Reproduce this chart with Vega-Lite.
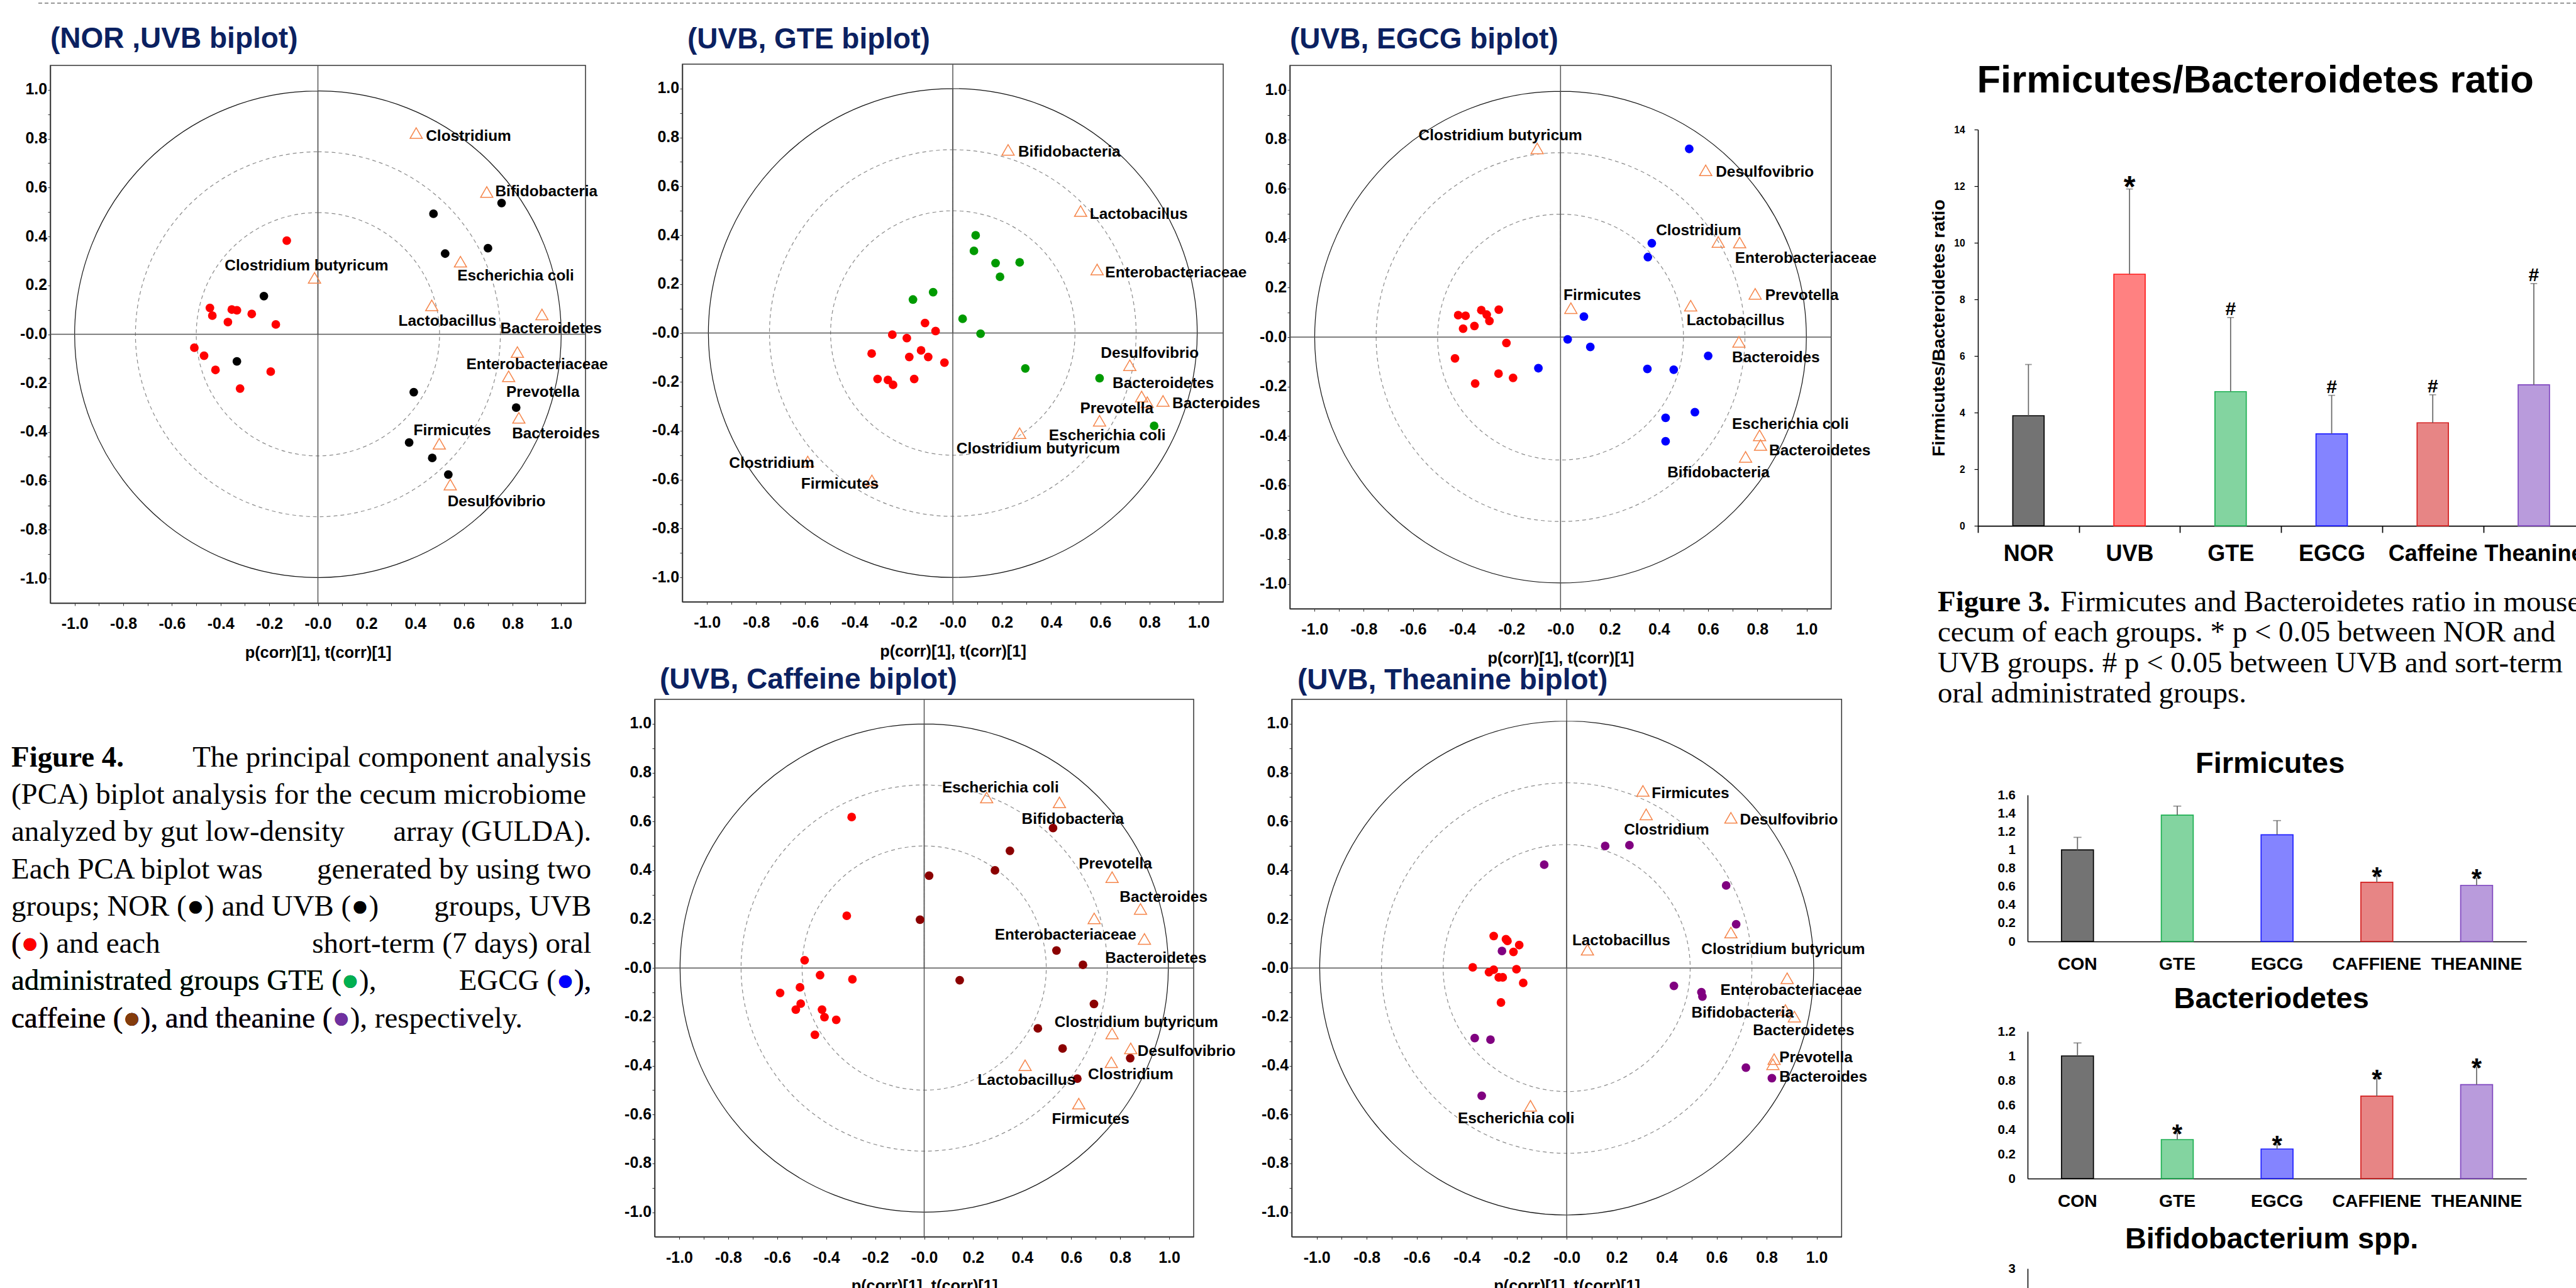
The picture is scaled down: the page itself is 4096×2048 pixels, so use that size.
{
"$schema": "https://vega.github.io/schema/vega-lite/v6.json",
"padding": 0,
"background": "white",
"config": {
  "view": {"stroke": null},
  "axis": {"labelFont": "Liberation Sans", "titleFont": "Liberation Sans", "labelFontWeight": "bold", "titleFontWeight": "bold", "labelColor": "black", "titleColor": "black", "grid": false, "labelOverlap": false, "labelFlush": false, "labelBound": false, "domainColor": "black", "tickColor": "black"},
  "title": {"font": "Liberation Sans", "fontWeight": "bold", "color": "black", "baseline": "alphabetic", "frame": "group"},
  "text": {"font": "Liberation Sans"}
},
"datasets": {
  "b1p": [{"x":-0.128,"y":0.383,"g":"UVB"},{"x":-0.444,"y":0.108,"g":"UVB"},{"x":-0.434,"y":0.076,"g":"UVB"},{"x":-0.354,"y":0.101,"g":"UVB"},{"x":-0.333,"y":0.098,"g":"UVB"},{"x":-0.272,"y":0.083,"g":"UVB"},{"x":-0.37,"y":0.05,"g":"UVB"},{"x":-0.173,"y":0.04,"g":"UVB"},{"x":-0.508,"y":-0.055,"g":"UVB"},{"x":-0.468,"y":-0.088,"g":"UVB"},{"x":-0.421,"y":-0.146,"g":"UVB"},{"x":-0.194,"y":-0.153,"g":"UVB"},{"x":-0.32,"y":-0.222,"g":"UVB"},
    {"x":0.475,"y":0.493,"g":"NOR"},{"x":0.755,"y":0.537,"g":"NOR"},{"x":0.523,"y":0.33,"g":"NOR"},{"x":0.699,"y":0.352,"g":"NOR"},{"x":-0.222,"y":0.156,"g":"NOR"},{"x":-0.333,"y":-0.111,"g":"NOR"},{"x":0.394,"y":-0.237,"g":"NOR"},{"x":0.815,"y":-0.3,"g":"NOR"},{"x":0.375,"y":-0.443,"g":"NOR"},{"x":0.47,"y":-0.506,"g":"NOR"},{"x":0.536,"y":-0.574,"g":"NOR"}],
  "b1t": [{"label":"Clostridium","x":0.404,"y":0.823,"lx":0.444,"ly":0.809},{"label":"Bifidobacteria","x":0.694,"y":0.582,"lx":0.729,"ly":0.584},{"label":"Escherichia coli","x":0.586,"y":0.297,"lx":0.573,"ly":0.239},{"label":"Clostridium butyricum","x":-0.014,"y":0.231,"lx":-0.383,"ly":0.28},{"label":"Lactobacillus","x":0.468,"y":0.118,"lx":0.331,"ly":0.053},{"label":"Bacteroidetes","x":0.921,"y":0.081,"lx":0.75,"ly":0.023},{"label":"Enterobacteriaceae","x":0.82,"y":-0.073,"lx":0.61,"ly":-0.126},{"label":"Prevotella","x":0.784,"y":-0.172,"lx":0.774,"ly":-0.239},{"label":"Bacteroides","x":0.826,"y":-0.342,"lx":0.798,"ly":-0.408},{"label":"Firmicutes","x":0.499,"y":-0.448,"lx":0.393,"ly":-0.396},{"label":"Desulfovibrio","x":0.544,"y":-0.615,"lx":0.533,"ly":-0.687}],
  "gtep": [{"x":-0.113,"y":0.041,"g":"UVB"},{"x":-0.07,"y":0.008,"g":"UVB"},{"x":-0.246,"y":-0.007,"g":"UVB"},{"x":-0.187,"y":-0.021,"g":"UVB"},{"x":-0.33,"y":-0.084,"g":"UVB"},{"x":-0.129,"y":-0.071,"g":"UVB"},{"x":-0.177,"y":-0.098,"g":"UVB"},{"x":-0.1,"y":-0.098,"g":"UVB"},{"x":-0.034,"y":-0.121,"g":"UVB"},{"x":-0.306,"y":-0.188,"g":"UVB"},{"x":-0.264,"y":-0.192,"g":"UVB"},{"x":-0.243,"y":-0.212,"g":"UVB"},{"x":-0.157,"y":-0.188,"g":"UVB"},
    {"x":0.093,"y":0.4,"g":"GTE"},{"x":0.086,"y":0.336,"g":"GTE"},{"x":0.174,"y":0.286,"g":"GTE"},{"x":0.272,"y":0.289,"g":"GTE"},{"x":0.192,"y":0.23,"g":"GTE"},{"x":-0.08,"y":0.167,"g":"GTE"},{"x":-0.162,"y":0.137,"g":"GTE"},{"x":0.04,"y":0.058,"g":"GTE"},{"x":0.113,"y":-0.003,"g":"GTE"},{"x":0.295,"y":-0.145,"g":"GTE"},{"x":0.597,"y":-0.185,"g":"GTE"},{"x":0.819,"y":-0.38,"g":"GTE"}],
  "gtet": [{"label":"Bifidobacteria","x":0.225,"y":0.749,"lx":0.266,"ly":0.739},{"label":"Lactobacillus","x":0.52,"y":0.499,"lx":0.557,"ly":0.484},{"label":"Enterobacteriaceae","x":0.587,"y":0.26,"lx":0.62,"ly":0.245},{"label":"Desulfovibrio","x":0.72,"y":-0.132,"lx":0.602,"ly":-0.083},{"label":"Bacteroidetes","x":0.768,"y":-0.26,"lx":0.65,"ly":-0.207},{"label":"Prevotella","x":0.791,"y":-0.283,"lx":0.518,"ly":-0.309},{"label":"Bacteroides","x":0.855,"y":-0.278,"lx":0.893,"ly":-0.289},{"label":"Escherichia coli","x":0.597,"y":-0.359,"lx":0.391,"ly":-0.421},{"label":"Clostridium butyricum","x":0.272,"y":-0.41,"lx":0.015,"ly":-0.476},{"label":"Clostridium","x":-0.59,"y":-0.526,"lx":-0.91,"ly":-0.534},{"label":"Firmicutes","x":-0.329,"y":-0.603,"lx":-0.617,"ly":-0.62}],
  "egcgp": [{"x":-0.416,"y":0.089,"g":"UVB"},{"x":-0.386,"y":0.086,"g":"UVB"},{"x":-0.322,"y":0.109,"g":"UVB"},{"x":-0.3,"y":0.091,"g":"UVB"},{"x":-0.251,"y":0.111,"g":"UVB"},{"x":-0.289,"y":0.065,"g":"UVB"},{"x":-0.396,"y":0.034,"g":"UVB"},{"x":-0.35,"y":0.045,"g":"UVB"},{"x":-0.22,"y":-0.024,"g":"UVB"},{"x":-0.429,"y":-0.086,"g":"UVB"},{"x":-0.252,"y":-0.148,"g":"UVB"},{"x":-0.193,"y":-0.165,"g":"UVB"},{"x":-0.347,"y":-0.188,"g":"UVB"},
    {"x":0.523,"y":0.762,"g":"EGCG"},{"x":0.371,"y":0.38,"g":"EGCG"},{"x":0.355,"y":0.324,"g":"EGCG"},{"x":0.095,"y":0.083,"g":"EGCG"},{"x":0.029,"y":-0.009,"g":"EGCG"},{"x":0.121,"y":-0.04,"g":"EGCG"},{"x":-0.09,"y":-0.126,"g":"EGCG"},{"x":0.353,"y":-0.129,"g":"EGCG"},{"x":0.46,"y":-0.132,"g":"EGCG"},{"x":0.6,"y":-0.076,"g":"EGCG"},{"x":0.546,"y":-0.304,"g":"EGCG"},{"x":0.427,"y":-0.327,"g":"EGCG"},{"x":0.427,"y":-0.422,"g":"EGCG"}],
  "egcgt": [{"label":"Clostridium butyricum","x":-0.095,"y":0.764,"lx":-0.577,"ly":0.815},{"label":"Desulfovibrio","x":0.59,"y":0.675,"lx":0.631,"ly":0.667},{"label":"Clostridium","x":0.641,"y":0.385,"lx":0.388,"ly":0.431},{"label":"Enterobacteriaceae","x":0.728,"y":0.383,"lx":0.709,"ly":0.318},{"label":"Prevotella","x":0.791,"y":0.175,"lx":0.832,"ly":0.167},{"label":"Firmicutes","x":0.042,"y":0.117,"lx":0.012,"ly":0.167},{"label":"Lactobacillus","x":0.529,"y":0.127,"lx":0.512,"ly":0.065},{"label":"Bacteroides","x":0.725,"y":-0.019,"lx":0.697,"ly":-0.083},{"label":"Escherichia coli","x":0.809,"y":-0.398,"lx":0.697,"ly":-0.354},{"label":"Bacteroidetes","x":0.813,"y":-0.437,"lx":0.848,"ly":-0.46},{"label":"Bifidobacteria","x":0.752,"y":-0.485,"lx":0.434,"ly":-0.549}],
  "cafp": [{"x":-0.296,"y":0.618,"g":"UVB"},{"x":-0.316,"y":0.214,"g":"UVB"},{"x":-0.488,"y":0.032,"g":"UVB"},{"x":-0.425,"y":-0.029,"g":"UVB"},{"x":-0.293,"y":-0.046,"g":"UVB"},{"x":-0.507,"y":-0.079,"g":"UVB"},{"x":-0.588,"y":-0.102,"g":"UVB"},{"x":-0.504,"y":-0.146,"g":"UVB"},{"x":-0.524,"y":-0.17,"g":"UVB"},{"x":-0.417,"y":-0.17,"g":"UVB"},{"x":-0.407,"y":-0.201,"g":"UVB"},{"x":-0.359,"y":-0.212,"g":"UVB"},{"x":-0.446,"y":-0.273,"g":"UVB"},
    {"x":0.526,"y":0.573,"g":"CAF"},{"x":0.35,"y":0.48,"g":"CAF"},{"x":0.289,"y":0.4,"g":"CAF"},{"x":0.02,"y":0.378,"g":"CAF"},{"x":-0.017,"y":0.198,"g":"CAF"},{"x":0.54,"y":0.072,"g":"CAF"},{"x":0.648,"y":0.013,"g":"CAF"},{"x":0.145,"y":-0.05,"g":"CAF"},{"x":0.693,"y":-0.147,"g":"CAF"},{"x":0.464,"y":-0.247,"g":"CAF"},{"x":0.565,"y":-0.329,"g":"CAF"},{"x":0.841,"y":-0.369,"g":"CAF"},{"x":0.625,"y":-0.453,"g":"CAF"}],
  "caft": [{"label":"Escherichia coli","x":0.255,"y":0.698,"lx":0.073,"ly":0.738},{"label":"Bifidobacteria","x":0.552,"y":0.678,"lx":0.398,"ly":0.608},{"label":"Prevotella","x":0.767,"y":0.372,"lx":0.631,"ly":0.426},{"label":"Bacteroides","x":0.883,"y":0.242,"lx":0.798,"ly":0.29},{"label":"Enterobacteriaceae","x":0.694,"y":0.203,"lx":0.288,"ly":0.135},{"label":"Bacteroidetes","x":0.899,"y":0.119,"lx":0.739,"ly":0.039},{"label":"Clostridium butyricum","x":0.767,"y":-0.268,"lx":0.532,"ly":-0.224},{"label":"Desulfovibrio","x":0.843,"y":-0.329,"lx":0.871,"ly":-0.343},{"label":"Clostridium","x":0.764,"y":-0.386,"lx":0.669,"ly":-0.438},{"label":"Lactobacillus","x":0.412,"y":-0.398,"lx":0.218,"ly":-0.46},{"label":"Firmicutes","x":0.631,"y":-0.555,"lx":0.521,"ly":-0.62}],
  "thep": [{"x":-0.292,"y":0.131,"g":"UVB"},{"x":-0.243,"y":0.118,"g":"UVB"},{"x":-0.237,"y":0.111,"g":"UVB"},{"x":-0.19,"y":0.094,"g":"UVB"},{"x":-0.213,"y":0.066,"g":"UVB"},{"x":-0.376,"y":0.003,"g":"UVB"},{"x":-0.292,"y":-0.007,"g":"UVB"},{"x":-0.311,"y":-0.017,"g":"UVB"},{"x":-0.272,"y":-0.038,"g":"UVB"},{"x":-0.256,"y":-0.038,"g":"UVB"},{"x":-0.201,"y":-0.005,"g":"UVB"},{"x":-0.174,"y":-0.061,"g":"UVB"},{"x":-0.263,"y":-0.141,"g":"UVB"},
    {"x":-0.09,"y":0.423,"g":"THE"},{"x":0.154,"y":0.5,"g":"THE"},{"x":0.251,"y":0.503,"g":"THE"},{"x":0.638,"y":0.338,"g":"THE"},{"x":0.678,"y":0.179,"g":"THE"},{"x":-0.259,"y":0.07,"g":"THE"},{"x":0.429,"y":-0.073,"g":"THE"},{"x":0.539,"y":-0.099,"g":"THE"},{"x":0.543,"y":-0.117,"g":"THE"},{"x":-0.368,"y":-0.287,"g":"THE"},{"x":-0.305,"y":-0.293,"g":"THE"},{"x":0.717,"y":-0.408,"g":"THE"},{"x":0.821,"y":-0.451,"g":"THE"},{"x":-0.34,"y":-0.523,"g":"THE"}],
  "thet": [{"label":"Firmicutes","x":0.305,"y":0.725,"lx":0.34,"ly":0.713},{"label":"Clostridium","x":0.318,"y":0.629,"lx":0.229,"ly":0.564},{"label":"Desulfovibrio","x":0.657,"y":0.615,"lx":0.693,"ly":0.605},{"label":"Clostridium butyricum","x":0.657,"y":0.145,"lx":0.539,"ly":0.075},{"label":"Lactobacillus","x":0.083,"y":0.075,"lx":0.022,"ly":0.111},{"label":"Enterobacteriaceae","x":0.882,"y":-0.042,"lx":0.615,"ly":-0.092},{"label":"Bifidobacteria","x":0.875,"y":-0.172,"lx":0.499,"ly":-0.185},{"label":"Bacteroidetes","x":0.911,"y":-0.199,"lx":0.745,"ly":-0.256},{"label":"Prevotella","x":0.83,"y":-0.373,"lx":0.851,"ly":-0.368},{"label":"Bacteroides","x":0.825,"y":-0.394,"lx":0.851,"ly":-0.448},{"label":"Escherichia coli","x":-0.145,"y":-0.564,"lx":-0.436,"ly":-0.617}],
  "fb": [{"grp":"NOR","v":3.89,"err":5.7,"sig":""},{"grp":"UVB","v":8.89,"err":11.9,"sig":"*"},{"grp":"GTE","v":4.74,"err":7.36,"sig":"#"},{"grp":"EGCG","v":3.25,"err":4.61,"sig":"#"},{"grp":"Caffeine","v":3.64,"err":4.63,"sig":"#"},{"grp":"Theanine","v":4.98,"err":8.56,"sig":"#"}],
  "firm": [{"grp":"CON","v":1.0,"err":1.137,"sig":""},{"grp":"GTE","v":1.38,"err":1.478,"sig":""},{"grp":"EGCG","v":1.165,"err":1.32,"sig":""},{"grp":"CAFFIENE","v":0.646,"err":0.716,"sig":"*"},{"grp":"THEANINE","v":0.613,"err":0.692,"sig":"*"}],
  "bact": [{"grp":"CON","v":1.0,"err":1.106,"sig":""},{"grp":"GTE","v":0.318,"err":0.371,"sig":"*"},{"grp":"EGCG","v":0.241,"err":0.276,"sig":"*"},{"grp":"CAFFIENE","v":0.672,"err":0.815,"sig":"*"},{"grp":"THEANINE","v":0.766,"err":0.91,"sig":"*"}],
  "cap4": [{"line":1,"side":"B","text":"Figure 4.","tone":"k"},{"line":1,"side":"R","text":"The principal component analysis","tone":"k"},{"line":2,"side":"L","text":"(PCA) biplot analysis for the cecum microbiome","tone":"k"},{"line":3,"side":"L","text":"analyzed by gut low-density","tone":"k"},{"line":3,"side":"R","text":"array (GULDA).","tone":"k"},{"line":4,"side":"L","text":"Each PCA biplot was","tone":"k"},{"line":4,"side":"R","text":"generated by using two","tone":"k"},{"line":5,"side":"L","text":"groups; NOR (●) and UVB (●)","tone":"k"},{"line":5,"side":"R","text":"groups, UVB","tone":"k"},{"line":6,"side":"L","text":"(●) and each","tone":"k"},{"line":6,"side":"L","text":"(●","tone":"red"},{"line":6,"side":"L","text":"(","tone":"k"},{"line":6,"side":"R","text":"short-term (7 days) oral","tone":"k"},{"line":7,"side":"L","text":"administrated groups GTE (●),","tone":"k"},{"line":7,"side":"L","text":"administrated groups GTE (●","tone":"green"},{"line":7,"side":"L","text":"administrated groups GTE (","tone":"k"},{"line":7,"side":"R","text":"EGCG (●),","tone":"k"},{"line":7,"side":"R","text":"●),","tone":"blue"},{"line":7,"side":"R","text":"),","tone":"k"},{"line":8,"side":"L","text":"caffeine (●), and theanine (●), respectively.","tone":"k"},{"line":8,"side":"L","text":"caffeine (●), and theanine (●","tone":"purple"},{"line":8,"side":"L","text":"caffeine (●), and theanine (","tone":"k"},{"line":8,"side":"L","text":"caffeine (●","tone":"brown"},{"line":8,"side":"L","text":"caffeine (","tone":"k"}],
  "cap3": [{"line":1,"side":"B","text":"Figure 3.","tone":"k"},{"line":1,"side":"R","text":"Firmicutes and Bacteroidetes ratio in mouse","tone":"k"},{"line":2,"side":"L","text":"cecum of each groups. * p < 0.05 between NOR and","tone":"k"},{"line":3,"side":"L","text":"UVB groups. # p < 0.05 between UVB and sort-term","tone":"k"},{"line":4,"side":"L","text":"oral administrated groups.","tone":"k"}]
},
"concat": [
  {"width": 17.6, "height": 1, "data": {"values": []}, "mark": "point"},
  {"concat": [
    {"width": 1, "height": 1174.4, "data": {"values": []}, "mark": "point"},
    {"width": 922.3, "height": 474.4, "data": {"name": "cap4"},
     "encoding": {"y": {"field": "line", "type": "ordinal", "axis": null, "scale": {"type": "point", "padding": 0.5}}, "text": {"field": "text"}, "color": {"field": "tone", "type": "nominal", "scale": {"domain": ["k","red","green","blue","brown","purple"], "range": ["#000000","#FF0000","#00B050","#0000FF","#843C0C","#7030A0"]}, "legend": null}},
     "layer": [
      {"transform": [{"filter": "datum.side == 'L'"}], "mark": {"type": "text", "align": "left", "baseline": "middle", "font": "Liberation Serif", "fontSize": 46.9}, "encoding": {"x": {"value": 0}}},
      {"transform": [{"filter": "datum.side == 'R'"}], "mark": {"type": "text", "align": "right", "baseline": "middle", "font": "Liberation Serif", "fontSize": 46.9}, "encoding": {"x": {"value": "width"}}},
      {"transform": [{"filter": "datum.side == 'B'"}], "mark": {"type": "text", "align": "left", "baseline": "middle", "font": "Liberation Serif", "fontSize": 46.9, "fontWeight": "bold"}, "encoding": {"x": {"value": 0}}}
     ]}
  ], "columns": 1, "spacing": 0, "bounds": "flush", "align": "none", "resolve": {"scale": {"color": "independent"}}},
  {"width": 38.1, "height": 1, "data": {"values": []}, "mark": "point"},
  {"concat": [
    {"width": 1, "height": 4.9, "data": {"values": []}, "mark": "point"},
    {"width": 4040, "height": 1, "data": {"values": [{}]}, "mark": {"type": "rule", "color": "#777777", "strokeWidth": 1.5, "strokeDash": [6, 4]}, "encoding": {"y": {"value": 0}}}
  ], "columns": 1, "spacing": 0, "bounds": "flush", "align": "none"},
  {"width": 22.8, "height": 1, "data": {"values": []}, "mark": "point"},
  {"concat": [
    {"width": 1, "height": 103.5, "data": {"values": []}, "mark": "point"},
    {"width": 851, "height": 855, "view": {"stroke": "#333333", "strokeWidth": 1.5},
     "title": {"text": "(NOR ,UVB biplot)", "anchor": "start", "fontSize": 46, "color": "#0B2161", "offset": 17, "dx": 0},
     "layer": [
      {"data": {"values": [{"r": 1}]}, "mark": {"type": "arc", "theta": 0, "theta2": 6.2831853, "filled": false, "color": "#111111", "strokeWidth": 1.2}, "encoding": {"radius": {"field": "r", "type": "quantitative", "stack": null, "scale": {"type": "linear", "domain": [0, 1.1], "range": [0, 425.5], "zero": true}}}},
      {"data": {"values": [{"r": 0.75}, {"r": 0.5}]}, "mark": {"type": "arc", "theta": 0, "theta2": 6.2831853, "filled": false, "color": "#8a8a8a", "strokeWidth": 1.2, "strokeDash": [6, 5]}, "encoding": {"radius": {"field": "r", "type": "quantitative", "stack": null, "scale": {"type": "linear", "domain": [0, 1.1], "range": [0, 425.5], "zero": true}}}},
      {"data": {"values": [{}]}, "mark": {"type": "rule", "color": "#555555", "strokeWidth": 1.5}, "encoding": {"x": {"datum": 0, "type": "quantitative", "scale": {"domain": [-1.1, 1.1], "nice": false, "zero": false}}}},
      {"data": {"values": [{}]}, "mark": {"type": "rule", "color": "#555555", "strokeWidth": 1.5}, "encoding": {"y": {"datum": 0, "type": "quantitative", "scale": {"domain": [-1.1, 1.1], "nice": false, "zero": false}}}},
      {"data": {"name": "b1p"}, "mark": {"type": "point", "shape": "circle", "filled": true, "size": 190, "opacity": 1},
       "encoding": {
        "x": {"field": "x", "type": "quantitative", "scale": {"domain": [-1.1, 1.1], "nice": false, "zero": false}, "axis": {"values": [-1,-0.9,-0.8,-0.7,-0.6,-0.5,-0.4,-0.3,-0.2,-0.1,0,0.1,0.2,0.3,0.4,0.5,0.6,0.7,0.8,0.9,1], "labelExpr": "datum.value == 0 ? '-0.0' : (abs(round(datum.value * 10)) % 2 == 0 ? replace(format(datum.value, '.1f'), '\u2212', '-') : '')", "labelFontSize": 24.9, "labelPadding": 16.5, "tickSize": 4, "tickColor": "#333333", "domainColor": "#333333", "domainWidth": 1.5, "title": "p(corr)[1], t(corr)[1]", "titleFontSize": 25.4, "titlePadding": 20.8}},
        "y": {"field": "y", "type": "quantitative", "scale": {"domain": [-1.1, 1.1], "nice": false, "zero": false}, "axis": {"values": [-1,-0.9,-0.8,-0.7,-0.6,-0.5,-0.4,-0.3,-0.2,-0.1,0,0.1,0.2,0.3,0.4,0.5,0.6,0.7,0.8,0.9,1], "labelExpr": "datum.value == 0 ? '-0.0' : (abs(round(datum.value * 10)) % 2 == 0 ? replace(format(datum.value, '.1f'), '\u2212', '-') : '')", "labelFontSize": 24.9, "labelPadding": 1.5, "tickSize": 4, "tickColor": "#333333", "domainColor": "#333333", "domainWidth": 1.5, "title": null}},
        "color": {"field": "g", "type": "nominal", "scale": {"domain": ["UVB", "NOR"], "range": ["#FF0000", "#000000"]}, "legend": null}}},
      {"data": {"name": "b1t"}, "mark": {"type": "point", "shape": "triangle-up", "filled": false, "size": 380, "color": "#F5854A", "strokeWidth": 1.5, "opacity": 1}, "encoding": {"x": {"field": "x", "type": "quantitative"}, "y": {"field": "y", "type": "quantitative"}}},
      {"data": {"name": "b1t"}, "mark": {"type": "text", "align": "left", "baseline": "middle", "fontSize": 24.4, "fontWeight": "bold", "color": "black"}, "encoding": {"x": {"field": "lx", "type": "quantitative"}, "y": {"field": "ly", "type": "quantitative"}, "text": {"field": "label"}}}
     ]}
  ], "columns": 1, "spacing": 0, "bounds": "flush", "align": "none", "resolve": {"scale": {"color": "independent", "radius": "independent"}}},
  {"width": 960.7, "height": 1, "data": {"values": []}, "mark": "point"},
  {"concat": [
    {"width": 1, "height": 1111.2, "data": {"values": []}, "mark": "point"},
    {"width": 857, "height": 854.5, "view": {"stroke": "#333333", "strokeWidth": 1.5},
     "title": {"text": "(UVB, Caffeine biplot)", "anchor": "start", "fontSize": 46, "color": "#0B2161", "offset": 6.7, "dx": 8},
     "layer": [
      {"data": {"values": [{"r": 1}]}, "mark": {"type": "arc", "theta": 0, "theta2": 6.2831853, "filled": false, "color": "#111111", "strokeWidth": 1.2}, "encoding": {"radius": {"field": "r", "type": "quantitative", "stack": null, "scale": {"type": "linear", "domain": [0, 1.1], "range": [0, 427], "zero": true}}}},
      {"data": {"values": [{"r": 0.75}, {"r": 0.5}]}, "mark": {"type": "arc", "theta": 0, "theta2": 6.2831853, "filled": false, "color": "#8a8a8a", "strokeWidth": 1.2, "strokeDash": [6, 5]}, "encoding": {"radius": {"field": "r", "type": "quantitative", "stack": null, "scale": {"type": "linear", "domain": [0, 1.1], "range": [0, 427], "zero": true}}}},
      {"data": {"values": [{}]}, "mark": {"type": "rule", "color": "#555555", "strokeWidth": 1.5}, "encoding": {"x": {"datum": 0, "type": "quantitative", "scale": {"domain": [-1.1, 1.1], "nice": false, "zero": false}}}},
      {"data": {"values": [{}]}, "mark": {"type": "rule", "color": "#555555", "strokeWidth": 1.5}, "encoding": {"y": {"datum": 0, "type": "quantitative", "scale": {"domain": [-1.1, 1.1], "nice": false, "zero": false}}}},
      {"data": {"name": "cafp"}, "mark": {"type": "point", "shape": "circle", "filled": true, "size": 190, "opacity": 1},
       "encoding": {
        "x": {"field": "x", "type": "quantitative", "scale": {"domain": [-1.1, 1.1], "nice": false, "zero": false}, "axis": {"values": [-1,-0.9,-0.8,-0.7,-0.6,-0.5,-0.4,-0.3,-0.2,-0.1,0,0.1,0.2,0.3,0.4,0.5,0.6,0.7,0.8,0.9,1], "labelExpr": "datum.value == 0 ? '-0.0' : (abs(round(datum.value * 10)) % 2 == 0 ? replace(format(datum.value, '.1f'), '\u2212', '-') : '')", "labelFontSize": 24.9, "labelPadding": 16.5, "tickSize": 4, "tickColor": "#333333", "domainColor": "#333333", "domainWidth": 1.5, "title": "p(corr)[1], t(corr)[1]", "titleFontSize": 25.4, "titlePadding": 20.8}},
        "y": {"field": "y", "type": "quantitative", "scale": {"domain": [-1.1, 1.1], "nice": false, "zero": false}, "axis": {"values": [-1,-0.9,-0.8,-0.7,-0.6,-0.5,-0.4,-0.3,-0.2,-0.1,0,0.1,0.2,0.3,0.4,0.5,0.6,0.7,0.8,0.9,1], "labelExpr": "datum.value == 0 ? '-0.0' : (abs(round(datum.value * 10)) % 2 == 0 ? replace(format(datum.value, '.1f'), '\u2212', '-') : '')", "labelFontSize": 24.9, "labelPadding": 1.5, "tickSize": 4, "tickColor": "#333333", "domainColor": "#333333", "domainWidth": 1.5, "title": null}},
        "color": {"field": "g", "type": "nominal", "scale": {"domain": ["UVB", "CAF"], "range": ["#FF0000", "#8B0000"]}, "legend": null}}},
      {"data": {"name": "caft"}, "mark": {"type": "point", "shape": "triangle-up", "filled": false, "size": 380, "color": "#F5854A", "strokeWidth": 1.5, "opacity": 1}, "encoding": {"x": {"field": "x", "type": "quantitative"}, "y": {"field": "y", "type": "quantitative"}}},
      {"data": {"name": "caft"}, "mark": {"type": "text", "align": "left", "baseline": "middle", "fontSize": 24.4, "fontWeight": "bold", "color": "black"}, "encoding": {"x": {"field": "lx", "type": "quantitative"}, "y": {"field": "ly", "type": "quantitative"}, "text": {"field": "label"}}}
     ]}
  ], "columns": 1, "spacing": 0, "bounds": "flush", "align": "none", "resolve": {"scale": {"color": "independent", "radius": "independent"}}},
  {"width": 43.7, "height": 1, "data": {"values": []}, "mark": "point"},
  {"concat": [
    {"width": 1, "height": 101.4, "data": {"values": []}, "mark": "point"},
    {"width": 860, "height": 855, "view": {"stroke": "#333333", "strokeWidth": 1.5},
     "title": {"text": "(UVB, GTE biplot)", "anchor": "start", "fontSize": 46, "color": "#0B2161", "offset": 14, "dx": 8},
     "layer": [
      {"data": {"values": [{"r": 1}]}, "mark": {"type": "arc", "theta": 0, "theta2": 6.2831853, "filled": false, "color": "#111111", "strokeWidth": 1.2}, "encoding": {"radius": {"field": "r", "type": "quantitative", "stack": null, "scale": {"type": "linear", "domain": [0, 1.1], "range": [0, 427.5], "zero": true}}}},
      {"data": {"values": [{"r": 0.75}, {"r": 0.5}]}, "mark": {"type": "arc", "theta": 0, "theta2": 6.2831853, "filled": false, "color": "#8a8a8a", "strokeWidth": 1.2, "strokeDash": [6, 5]}, "encoding": {"radius": {"field": "r", "type": "quantitative", "stack": null, "scale": {"type": "linear", "domain": [0, 1.1], "range": [0, 427.5], "zero": true}}}},
      {"data": {"values": [{}]}, "mark": {"type": "rule", "color": "#555555", "strokeWidth": 1.5}, "encoding": {"x": {"datum": 0, "type": "quantitative", "scale": {"domain": [-1.1, 1.1], "nice": false, "zero": false}}}},
      {"data": {"values": [{}]}, "mark": {"type": "rule", "color": "#555555", "strokeWidth": 1.5}, "encoding": {"y": {"datum": 0, "type": "quantitative", "scale": {"domain": [-1.1, 1.1], "nice": false, "zero": false}}}},
      {"data": {"name": "gtep"}, "mark": {"type": "point", "shape": "circle", "filled": true, "size": 190, "opacity": 1},
       "encoding": {
        "x": {"field": "x", "type": "quantitative", "scale": {"domain": [-1.1, 1.1], "nice": false, "zero": false}, "axis": {"values": [-1,-0.9,-0.8,-0.7,-0.6,-0.5,-0.4,-0.3,-0.2,-0.1,0,0.1,0.2,0.3,0.4,0.5,0.6,0.7,0.8,0.9,1], "labelExpr": "datum.value == 0 ? '-0.0' : (abs(round(datum.value * 10)) % 2 == 0 ? replace(format(datum.value, '.1f'), '\u2212', '-') : '')", "labelFontSize": 24.9, "labelPadding": 16.5, "tickSize": 4, "tickColor": "#333333", "domainColor": "#333333", "domainWidth": 1.5, "title": "p(corr)[1], t(corr)[1]", "titleFontSize": 25.4, "titlePadding": 20.8}},
        "y": {"field": "y", "type": "quantitative", "scale": {"domain": [-1.1, 1.1], "nice": false, "zero": false}, "axis": {"values": [-1,-0.9,-0.8,-0.7,-0.6,-0.5,-0.4,-0.3,-0.2,-0.1,0,0.1,0.2,0.3,0.4,0.5,0.6,0.7,0.8,0.9,1], "labelExpr": "datum.value == 0 ? '-0.0' : (abs(round(datum.value * 10)) % 2 == 0 ? replace(format(datum.value, '.1f'), '\u2212', '-') : '')", "labelFontSize": 24.9, "labelPadding": 1.5, "tickSize": 4, "tickColor": "#333333", "domainColor": "#333333", "domainWidth": 1.5, "title": null}},
        "color": {"field": "g", "type": "nominal", "scale": {"domain": ["UVB", "GTE"], "range": ["#FF0000", "#009A00"]}, "legend": null}}},
      {"data": {"name": "gtet"}, "mark": {"type": "point", "shape": "triangle-up", "filled": false, "size": 380, "color": "#F5854A", "strokeWidth": 1.5, "opacity": 1}, "encoding": {"x": {"field": "x", "type": "quantitative"}, "y": {"field": "y", "type": "quantitative"}}},
      {"data": {"name": "gtet"}, "mark": {"type": "text", "align": "left", "baseline": "middle", "fontSize": 24.4, "fontWeight": "bold", "color": "black"}, "encoding": {"x": {"field": "lx", "type": "quantitative"}, "y": {"field": "ly", "type": "quantitative"}, "text": {"field": "label"}}}
     ]}
  ], "columns": 1, "spacing": 0, "bounds": "flush", "align": "none", "resolve": {"scale": {"color": "independent", "radius": "independent"}}},
  {"width": 965.3, "height": 1, "data": {"values": []}, "mark": "point"},
  {"concat": [
    {"width": 1, "height": 104, "data": {"values": []}, "mark": "point"},
    {"width": 860.7, "height": 864, "view": {"stroke": "#333333", "strokeWidth": 1.5},
     "title": {"text": "(UVB, EGCG biplot)", "anchor": "start", "fontSize": 46, "color": "#0B2161", "offset": 16.5, "dx": 0},
     "layer": [
      {"data": {"values": [{"r": 1}]}, "mark": {"type": "arc", "theta": 0, "theta2": 6.2831853, "filled": false, "color": "#111111", "strokeWidth": 1.2}, "encoding": {"radius": {"field": "r", "type": "quantitative", "stack": null, "scale": {"type": "linear", "domain": [0, 1.1], "range": [0, 430], "zero": true}}}},
      {"data": {"values": [{"r": 0.75}, {"r": 0.5}]}, "mark": {"type": "arc", "theta": 0, "theta2": 6.2831853, "filled": false, "color": "#8a8a8a", "strokeWidth": 1.2, "strokeDash": [6, 5]}, "encoding": {"radius": {"field": "r", "type": "quantitative", "stack": null, "scale": {"type": "linear", "domain": [0, 1.1], "range": [0, 430], "zero": true}}}},
      {"data": {"values": [{}]}, "mark": {"type": "rule", "color": "#555555", "strokeWidth": 1.5}, "encoding": {"x": {"datum": 0, "type": "quantitative", "scale": {"domain": [-1.1, 1.1], "nice": false, "zero": false}}}},
      {"data": {"values": [{}]}, "mark": {"type": "rule", "color": "#555555", "strokeWidth": 1.5}, "encoding": {"y": {"datum": 0, "type": "quantitative", "scale": {"domain": [-1.1, 1.1], "nice": false, "zero": false}}}},
      {"data": {"name": "egcgp"}, "mark": {"type": "point", "shape": "circle", "filled": true, "size": 190, "opacity": 1},
       "encoding": {
        "x": {"field": "x", "type": "quantitative", "scale": {"domain": [-1.1, 1.1], "nice": false, "zero": false}, "axis": {"values": [-1,-0.9,-0.8,-0.7,-0.6,-0.5,-0.4,-0.3,-0.2,-0.1,0,0.1,0.2,0.3,0.4,0.5,0.6,0.7,0.8,0.9,1], "labelExpr": "datum.value == 0 ? '-0.0' : (abs(round(datum.value * 10)) % 2 == 0 ? replace(format(datum.value, '.1f'), '\u2212', '-') : '')", "labelFontSize": 24.9, "labelPadding": 16.5, "tickSize": 4, "tickColor": "#333333", "domainColor": "#333333", "domainWidth": 1.5, "title": "p(corr)[1], t(corr)[1]", "titleFontSize": 25.4, "titlePadding": 20.8}},
        "y": {"field": "y", "type": "quantitative", "scale": {"domain": [-1.1, 1.1], "nice": false, "zero": false}, "axis": {"values": [-1,-0.9,-0.8,-0.7,-0.6,-0.5,-0.4,-0.3,-0.2,-0.1,0,0.1,0.2,0.3,0.4,0.5,0.6,0.7,0.8,0.9,1], "labelExpr": "datum.value == 0 ? '-0.0' : (abs(round(datum.value * 10)) % 2 == 0 ? replace(format(datum.value, '.1f'), '\u2212', '-') : '')", "labelFontSize": 24.9, "labelPadding": 1.5, "tickSize": 4, "tickColor": "#333333", "domainColor": "#333333", "domainWidth": 1.5, "title": null}},
        "color": {"field": "g", "type": "nominal", "scale": {"domain": ["UVB", "EGCG"], "range": ["#FF0000", "#0000FF"]}, "legend": null}}},
      {"data": {"name": "egcgt"}, "mark": {"type": "point", "shape": "triangle-up", "filled": false, "size": 380, "color": "#F5854A", "strokeWidth": 1.5, "opacity": 1}, "encoding": {"x": {"field": "x", "type": "quantitative"}, "y": {"field": "y", "type": "quantitative"}}},
      {"data": {"name": "egcgt"}, "mark": {"type": "text", "align": "left", "baseline": "middle", "fontSize": 24.4, "fontWeight": "bold", "color": "black"}, "encoding": {"x": {"field": "lx", "type": "quantitative"}, "y": {"field": "ly", "type": "quantitative"}, "text": {"field": "label"}}}
     ]}
  ], "columns": 1, "spacing": 0, "bounds": "flush", "align": "none", "resolve": {"scale": {"color": "independent", "radius": "independent"}}},
  {"width": 2.5, "height": 1, "data": {"values": []}, "mark": "point"},
  {"concat": [
    {"width": 1, "height": 1111.2, "data": {"values": []}, "mark": "point"},
    {"width": 874.3, "height": 854.5, "view": {"stroke": "#333333", "strokeWidth": 1.5},
     "title": {"text": "(UVB, Theanine biplot)", "anchor": "start", "fontSize": 46, "color": "#0B2161", "offset": 5.3, "dx": 9},
     "layer": [
      {"data": {"values": [{"r": 1}]}, "mark": {"type": "arc", "theta": 0, "theta2": 6.2831853, "filled": false, "color": "#111111", "strokeWidth": 1.2}, "encoding": {"radius": {"field": "r", "type": "quantitative", "stack": null, "scale": {"type": "linear", "domain": [0, 1.1], "range": [0, 432], "zero": true}}}},
      {"data": {"values": [{"r": 0.75}, {"r": 0.5}]}, "mark": {"type": "arc", "theta": 0, "theta2": 6.2831853, "filled": false, "color": "#8a8a8a", "strokeWidth": 1.2, "strokeDash": [6, 5]}, "encoding": {"radius": {"field": "r", "type": "quantitative", "stack": null, "scale": {"type": "linear", "domain": [0, 1.1], "range": [0, 432], "zero": true}}}},
      {"data": {"values": [{}]}, "mark": {"type": "rule", "color": "#555555", "strokeWidth": 1.5}, "encoding": {"x": {"datum": 0, "type": "quantitative", "scale": {"domain": [-1.1, 1.1], "nice": false, "zero": false}}}},
      {"data": {"values": [{}]}, "mark": {"type": "rule", "color": "#555555", "strokeWidth": 1.5}, "encoding": {"y": {"datum": 0, "type": "quantitative", "scale": {"domain": [-1.1, 1.1], "nice": false, "zero": false}}}},
      {"data": {"name": "thep"}, "mark": {"type": "point", "shape": "circle", "filled": true, "size": 190, "opacity": 1},
       "encoding": {
        "x": {"field": "x", "type": "quantitative", "scale": {"domain": [-1.1, 1.1], "nice": false, "zero": false}, "axis": {"values": [-1,-0.9,-0.8,-0.7,-0.6,-0.5,-0.4,-0.3,-0.2,-0.1,0,0.1,0.2,0.3,0.4,0.5,0.6,0.7,0.8,0.9,1], "labelExpr": "datum.value == 0 ? '-0.0' : (abs(round(datum.value * 10)) % 2 == 0 ? replace(format(datum.value, '.1f'), '\u2212', '-') : '')", "labelFontSize": 24.9, "labelPadding": 16.5, "tickSize": 4, "tickColor": "#333333", "domainColor": "#333333", "domainWidth": 1.5, "title": "p(corr)[1], t(corr)[1]", "titleFontSize": 25.4, "titlePadding": 20.8}},
        "y": {"field": "y", "type": "quantitative", "scale": {"domain": [-1.1, 1.1], "nice": false, "zero": false}, "axis": {"values": [-1,-0.9,-0.8,-0.7,-0.6,-0.5,-0.4,-0.3,-0.2,-0.1,0,0.1,0.2,0.3,0.4,0.5,0.6,0.7,0.8,0.9,1], "labelExpr": "datum.value == 0 ? '-0.0' : (abs(round(datum.value * 10)) % 2 == 0 ? replace(format(datum.value, '.1f'), '\u2212', '-') : '')", "labelFontSize": 24.9, "labelPadding": 1.5, "tickSize": 4, "tickColor": "#333333", "domainColor": "#333333", "domainWidth": 1.5, "title": null}},
        "color": {"field": "g", "type": "nominal", "scale": {"domain": ["UVB", "THE"], "range": ["#FF0000", "#800080"]}, "legend": null}}},
      {"data": {"name": "thet"}, "mark": {"type": "point", "shape": "triangle-up", "filled": false, "size": 380, "color": "#F5854A", "strokeWidth": 1.5, "opacity": 1}, "encoding": {"x": {"field": "x", "type": "quantitative"}, "y": {"field": "y", "type": "quantitative"}}},
      {"data": {"name": "thet"}, "mark": {"type": "text", "align": "left", "baseline": "middle", "fontSize": 24.4, "fontWeight": "bold", "color": "black"}, "encoding": {"x": {"field": "lx", "type": "quantitative"}, "y": {"field": "ly", "type": "quantitative"}, "text": {"field": "label"}}}
     ]}
  ], "columns": 1, "spacing": 0, "bounds": "flush", "align": "none", "resolve": {"scale": {"color": "independent", "radius": "independent"}}},
  {"width": 1026.8, "height": 1, "data": {"values": []}, "mark": "point"},
  {"concat": [
    {"width": 1, "height": 933.9, "data": {"values": []}, "mark": "point"},
    {"width": 1022, "height": 193.2, "data": {"name": "cap3"},
     "encoding": {"y": {"field": "line", "type": "ordinal", "axis": null, "scale": {"type": "point", "padding": 0.5}}, "text": {"field": "text"}},
     "layer": [
      {"transform": [{"filter": "datum.side == 'L'"}], "mark": {"type": "text", "align": "left", "baseline": "middle", "font": "Liberation Serif", "fontSize": 46.9, "color": "black"}, "encoding": {"x": {"value": 0}}},
      {"transform": [{"filter": "datum.side == 'R'"}], "mark": {"type": "text", "align": "right", "baseline": "middle", "font": "Liberation Serif", "fontSize": 46.9, "color": "black"}, "encoding": {"x": {"value": "width"}}},
      {"transform": [{"filter": "datum.side == 'B'"}], "mark": {"type": "text", "align": "left", "baseline": "middle", "font": "Liberation Serif", "fontSize": 46.9, "fontWeight": "bold", "color": "black"}, "encoding": {"x": {"value": 0}}}
     ]}
  ], "columns": 1, "spacing": 0, "bounds": "flush", "align": "none"},
  {"width": 63.6, "height": 1, "data": {"values": []}, "mark": "point"},
  {"concat": [
    {"width": 1, "height": 205.2, "data": {"values": []}, "mark": "point"},
    {"width": 964.3, "height": 630.1,
     "title": {"text": "Firmicutes/Bacteroidetes ratio", "anchor": "middle", "fontSize": 61.5, "offset": 40, "dx": -41},
     "data": {"name": "fb"},
     "encoding": {"x": {"field": "grp", "type": "nominal", "sort": null, "scale": {"paddingInner": 0, "paddingOuter": 0}, "axis": {"title": null, "labelFontSize": 36, "labelAngle": 0, "labelPadding": 16.8, "ticks": true, "tickBand": "extent", "tickSize": 10.7, "tickWidth": 1.7, "domainWidth": 1.7, "labelOverlap": false}}},
     "layer": [
      {"mark": {"type": "bar", "width": {"band": 0.31}, "strokeWidth": 1.7, "fillOpacity": 0.55},
       "encoding": {"y": {"field": "v", "type": "quantitative", "title": "Firmicutes/Bacteroidetes ratio", "scale": {"domain": [0, 14], "nice": false}, "axis": {"values": [0,2,4,6,8,10,12,14], "labelFontSize": 15.6, "labelPadding": 15, "tickSize": 5.9, "tickWidth": 1.2, "domainWidth": 1.5, "titleFontSize": 28.4, "titlePadding": 9.2, "labelOverlap": false}},
        "fill": {"field": "grp", "type": "nominal", "scale": {"domain": ["NOR","UVB","GTE","EGCG","Caffeine","Theanine"], "range": ["#000000","#FF1A1A","#1DB052","#1F1FFF","#D42020","#8048C0"]}, "legend": null},
        "stroke": {"field": "grp", "type": "nominal", "scale": {"domain": ["NOR","UVB","GTE","EGCG","Caffeine","Theanine"], "range": ["#000000","#FF1A1A","#1DB052","#1F1FFF","#D42020","#8048C0"]}, "legend": null}}},
      {"mark": {"type": "rule", "color": "#666666", "strokeWidth": 1.7}, "encoding": {"y": {"field": "v", "type": "quantitative", "title": "Firmicutes/Bacteroidetes ratio", "scale": {"domain": [0, 14], "nice": false}, "axis": {"values": [0,2,4,6,8,10,12,14], "labelFontSize": 15.6, "labelPadding": 15, "tickSize": 5.9, "tickWidth": 1.2, "domainWidth": 1.5, "titleFontSize": 28.4, "titlePadding": 9.2, "labelOverlap": false}}, "y2": {"field": "err"}}},
      {"mark": {"type": "tick", "color": "#666666", "thickness": 1.7, "size": 10.7, "orient": "horizontal"}, "encoding": {"y": {"field": "err", "type": "quantitative", "title": "Firmicutes/Bacteroidetes ratio", "scale": {"domain": [0, 14], "nice": false}, "axis": {"values": [0,2,4,6,8,10,12,14], "labelFontSize": 15.6, "labelPadding": 15, "tickSize": 5.9, "tickWidth": 1.2, "domainWidth": 1.5, "titleFontSize": 28.4, "titlePadding": 9.2, "labelOverlap": false}}}},
      {"transform": [{"filter": "datum.sig == '*'"}], "mark": {"type": "text", "fontWeight": "bold", "fontSize": 48, "baseline": "alphabetic", "dy": 12, "color": "black"}, "encoding": {"y": {"field": "err", "type": "quantitative", "title": "Firmicutes/Bacteroidetes ratio", "scale": {"domain": [0, 14], "nice": false}, "axis": {"values": [0,2,4,6,8,10,12,14], "labelFontSize": 15.6, "labelPadding": 15, "tickSize": 5.9, "tickWidth": 1.2, "domainWidth": 1.5, "titleFontSize": 28.4, "titlePadding": 9.2, "labelOverlap": false}}, "text": {"field": "sig"}}},
      {"transform": [{"filter": "datum.sig == '#'"}], "mark": {"type": "text", "fontWeight": "bold", "fontSize": 30, "baseline": "alphabetic", "dy": -4, "color": "black"}, "encoding": {"y": {"field": "err", "type": "quantitative", "title": "Firmicutes/Bacteroidetes ratio", "scale": {"domain": [0, 14], "nice": false}, "axis": {"values": [0,2,4,6,8,10,12,14], "labelFontSize": 15.6, "labelPadding": 15, "tickSize": 5.9, "tickWidth": 1.2, "domainWidth": 1.5, "titleFontSize": 28.4, "titlePadding": 9.2, "labelOverlap": false}}, "text": {"field": "sig"}}}
     ]}
  ], "columns": 1, "spacing": 0, "bounds": "flush", "align": "none", "resolve": {"scale": {"fill": "independent", "stroke": "independent"}}},
  {"width": 78.1, "height": 1, "data": {"values": []}, "mark": "point"},
  {"concat": [
    {"width": 1, "height": 1120.8, "data": {"values": []}, "mark": "point"},
    {"width": 793.3, "height": 233,
     "title": {"text": "Firmicutes", "anchor": "middle", "fontSize": 46.9, "offset": 15, "dx": -11},
     "data": {"name": "firm"},
     "encoding": {"x": {"field": "grp", "type": "nominal", "sort": null, "scale": {"paddingInner": 0, "paddingOuter": 0}, "axis": {"title": null, "labelFontSize": 28.3, "labelAngle": 0, "labelPadding": 22, "ticks": false, "domainWidth": 1.7, "labelOverlap": false}}},
     "layer": [
      {"mark": {"type": "bar", "width": {"band": 0.32}, "strokeWidth": 1.7, "fillOpacity": 0.55},
       "encoding": {"y": {"field": "v", "type": "quantitative", "title": null, "scale": {"domain": [0, 1.6], "nice": false}, "axis": {"values": [0,0.2,0.4,0.6,0.8,1,1.2,1.4,1.6], "format": "~g", "labelFontSize": 20.5, "labelPadding": 19.5, "ticks": false, "domainWidth": 1.5, "labelOverlap": false}},
        "fill": {"field": "grp", "type": "nominal", "scale": {"domain": ["CON","GTE","EGCG","CAFFIENE","THEANINE"], "range": ["#000000","#1DB052","#1F1FFF","#D42020","#8048C0"]}, "legend": null},
        "stroke": {"field": "grp", "type": "nominal", "scale": {"domain": ["CON","GTE","EGCG","CAFFIENE","THEANINE"], "range": ["#000000","#1DB052","#1F1FFF","#D42020","#8048C0"]}, "legend": null}}},
      {"mark": {"type": "rule", "color": "#666666", "strokeWidth": 1.7}, "encoding": {"y": {"field": "v", "type": "quantitative", "title": null, "scale": {"domain": [0, 1.6], "nice": false}, "axis": {"values": [0,0.2,0.4,0.6,0.8,1,1.2,1.4,1.6], "format": "~g", "labelFontSize": 20.5, "labelPadding": 19.5, "ticks": false, "domainWidth": 1.5, "labelOverlap": false}}, "y2": {"field": "err"}}},
      {"mark": {"type": "tick", "color": "#666666", "thickness": 1.7, "size": 12.7, "orient": "horizontal"}, "encoding": {"y": {"field": "err", "type": "quantitative", "title": null, "scale": {"domain": [0, 1.6], "nice": false}, "axis": {"values": [0,0.2,0.4,0.6,0.8,1,1.2,1.4,1.6], "format": "~g", "labelFontSize": 20.5, "labelPadding": 19.5, "ticks": false, "domainWidth": 1.5, "labelOverlap": false}}}},
      {"mark": {"type": "text", "fontWeight": "bold", "fontSize": 42, "baseline": "alphabetic", "dy": 15, "color": "black"}, "encoding": {"y": {"field": "err", "type": "quantitative", "title": null, "scale": {"domain": [0, 1.6], "nice": false}, "axis": {"values": [0,0.2,0.4,0.6,0.8,1,1.2,1.4,1.6], "format": "~g", "labelFontSize": 20.5, "labelPadding": 19.5, "ticks": false, "domainWidth": 1.5, "labelOverlap": false}}, "text": {"field": "sig"}}}
     ]},
    {"width": 793.3, "height": 234,
     "title": {"text": "Bacteriodetes", "anchor": "middle", "fontSize": 46.9, "offset": 17.5, "dx": -9},
     "data": {"name": "bact"},
     "encoding": {"x": {"field": "grp", "type": "nominal", "sort": null, "scale": {"paddingInner": 0, "paddingOuter": 0}, "axis": {"title": null, "labelFontSize": 28.3, "labelAngle": 0, "labelPadding": 22, "ticks": false, "domainWidth": 1.7, "labelOverlap": false}}},
     "layer": [
      {"mark": {"type": "bar", "width": {"band": 0.32}, "strokeWidth": 1.7, "fillOpacity": 0.55},
       "encoding": {"y": {"field": "v", "type": "quantitative", "title": null, "scale": {"domain": [0, 1.2], "nice": false}, "axis": {"values": [0,0.2,0.4,0.6,0.8,1,1.2], "format": "~g", "labelFontSize": 20.5, "labelPadding": 19.5, "ticks": false, "domainWidth": 1.5, "labelOverlap": false}},
        "fill": {"field": "grp", "type": "nominal", "scale": {"domain": ["CON","GTE","EGCG","CAFFIENE","THEANINE"], "range": ["#000000","#1DB052","#1F1FFF","#D42020","#8048C0"]}, "legend": null},
        "stroke": {"field": "grp", "type": "nominal", "scale": {"domain": ["CON","GTE","EGCG","CAFFIENE","THEANINE"], "range": ["#000000","#1DB052","#1F1FFF","#D42020","#8048C0"]}, "legend": null}}},
      {"mark": {"type": "rule", "color": "#666666", "strokeWidth": 1.7}, "encoding": {"y": {"field": "v", "type": "quantitative", "title": null, "scale": {"domain": [0, 1.2], "nice": false}, "axis": {"values": [0,0.2,0.4,0.6,0.8,1,1.2], "format": "~g", "labelFontSize": 20.5, "labelPadding": 19.5, "ticks": false, "domainWidth": 1.5, "labelOverlap": false}}, "y2": {"field": "err"}}},
      {"mark": {"type": "tick", "color": "#666666", "thickness": 1.7, "size": 12.7, "orient": "horizontal"}, "encoding": {"y": {"field": "err", "type": "quantitative", "title": null, "scale": {"domain": [0, 1.2], "nice": false}, "axis": {"values": [0,0.2,0.4,0.6,0.8,1,1.2], "format": "~g", "labelFontSize": 20.5, "labelPadding": 19.5, "ticks": false, "domainWidth": 1.5, "labelOverlap": false}}}},
      {"mark": {"type": "text", "fontWeight": "bold", "fontSize": 42, "baseline": "alphabetic", "dy": 15, "color": "black"}, "encoding": {"y": {"field": "err", "type": "quantitative", "title": null, "scale": {"domain": [0, 1.2], "nice": false}, "axis": {"values": [0,0.2,0.4,0.6,0.8,1,1.2], "format": "~g", "labelFontSize": 20.5, "labelPadding": 19.5, "ticks": false, "domainWidth": 1.5, "labelOverlap": false}}, "text": {"field": "sig"}}}
     ]},
    {"width": 793.3, "height": 234,
     "title": {"text": "Bifidobacterium spp.", "anchor": "middle", "fontSize": 46.9, "offset": 12, "dx": -8.5},
     "data": {"values": []},
     "mark": "bar",
     "encoding": {
      "x": {"field": "grp", "type": "nominal", "scale": {"domain": ["CON","GTE","EGCG","CAFFIENE","THEANINE"], "paddingInner": 0, "paddingOuter": 0}, "axis": {"title": null, "labelFontSize": 28.3, "labelAngle": 0, "labelPadding": 22, "ticks": false, "domainWidth": 1.7, "labelOverlap": false}},
      "y": {"field": "v", "type": "quantitative", "title": null, "scale": {"domain": [0, 3], "nice": false}, "axis": {"values": [0,0.5,1,1.5,2,2.5,3], "format": "~g", "labelFontSize": 20.5, "labelPadding": 19.5, "ticks": false, "domainWidth": 1.5, "labelOverlap": false}}}}
  ], "columns": 1, "spacing": 143, "bounds": "flush", "align": "none", "resolve": {"scale": {"fill": "independent", "stroke": "independent"}}}
],
"columns": 20,
"spacing": 0,
"bounds": "flush",
"align": "none",
"resolve": {"scale": {"color": "independent", "fill": "independent", "stroke": "independent", "radius": "independent"}}
}
